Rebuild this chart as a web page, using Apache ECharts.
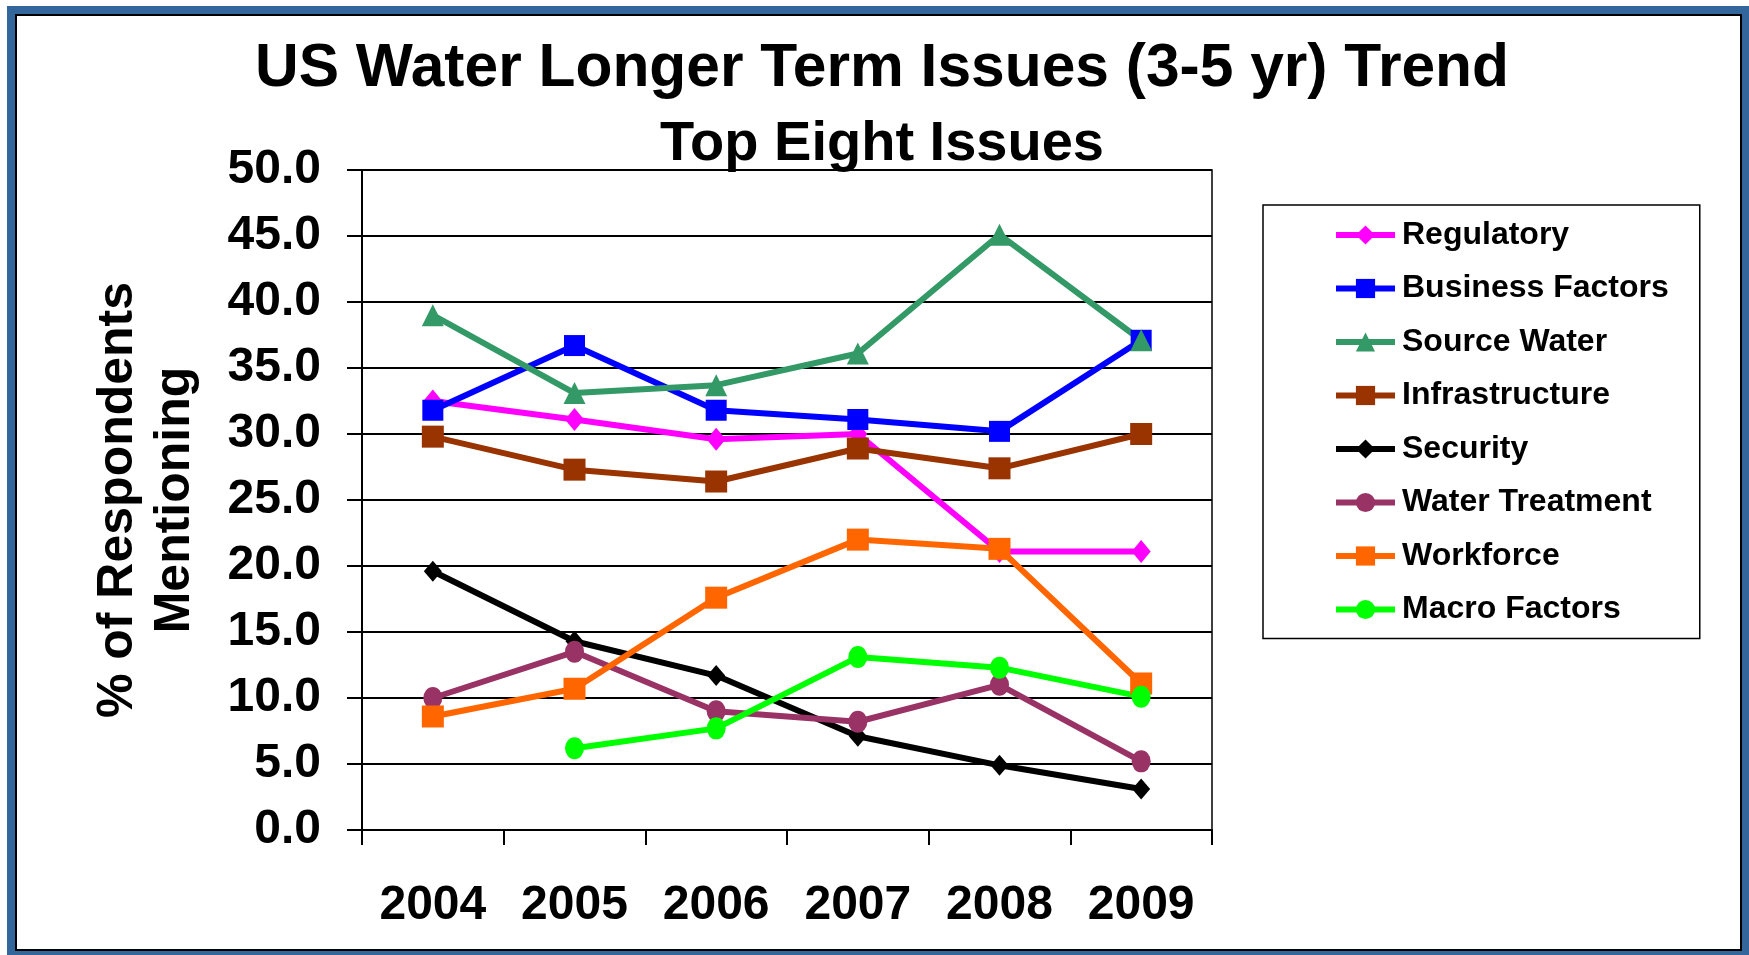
<!DOCTYPE html>
<html>
<head>
    <meta charset="utf-8">
    <title>US Water Longer Term Issues</title>
    <script src="https://cdn.jsdelivr.net/npm/echarts@6/dist/echarts.min.js"></script>
    <style>
        body { margin: 0; background: #fff; }
        #main { position: absolute; left: 0; top: 0; width: 1749px; height: 955px; }
        #frame {
            position: absolute; left: 7px; top: 6px; right: 0; bottom: 0;
            border: 8px solid #33669a; border-right-width: 7px; border-bottom-width: 4px;
            pointer-events: none;
        }
        #frame div { position: absolute; left: 0; top: 0; right: 0; bottom: 0; border: 2px solid #000; }
    </style>
</head>
<body>
    <div id="main"></div>
    <div id="frame"><div></div></div>
    <script>
    var years = ['2004', '2005', '2006', '2007', '2008', '2009'];
    var regulatory = [32.5, 31.1, 29.6, 30.0, 21.1, 21.1];
    var businessFactors = [31.8, 36.7, 31.8, 31.1, 30.2, 37.1];
    var sourceWater = [39.0, 33.1, 33.7, 36.1, 45.1, 37.1];
    var infrastructure = [29.8, 27.3, 26.4, 28.9, 27.4, 30.0];
    var security = [19.6, 14.3, 11.7, 7.1, 4.9, 3.1];
    var waterTreatment = [10.0, 13.5, 9.0, 8.2, 11.0, 5.2];
    var workforce = [8.6, 10.7, 17.6, 22.0, 21.3, 11.1];
    var macroFactors = [null, 6.2, 7.7, 13.1, 12.3, 10.1];

    var font = 'Liberation Sans, Arial, sans-serif';

    function makeSeries(name, data, color, symbol, size) {
        return {
            name: name,
            type: 'line',
            data: data,
            symbol: symbol,
            symbolSize: size,
            color: color,
            lineStyle: { width: 6, color: color },
            itemStyle: { color: color },
            connectNulls: false,
            animation: false
        };
    }

    var myChart = echarts.init(document.getElementById('main'));
    var option = {
        backgroundColor: '#fff',
        title: {
            text: '{a|US Water Longer Term Issues (3-5 yr) Trend}\n{b|Top Eight Issues}',
            left: 882,
            textAlign: 'center',
            top: 31,
            padding: 0,
            textStyle: {
                fontFamily: font,
                fontWeight: 'bold',
                color: '#000',
                rich: {
                    a: { fontFamily: font, fontWeight: 'bold', fontSize: 60.5, lineHeight: 76, color: '#000' },
                    b: { fontFamily: font, fontWeight: 'bold', fontSize: 56, lineHeight: 76, color: '#000' }
                }
            }
        },
        legend: {
            orient: 'vertical',
            left: 1263,
            top: 205,
            padding: [14, 31, 13, 70],
            itemWidth: 59,
            itemHeight: 24,
            itemGap: 21.5,
            borderColor: '#000',
            borderWidth: 1.5,
            lineStyle: { width: 6 },
            textStyle: {
                fontFamily: font,
                fontWeight: 'bold',
                fontSize: 32,
                lineHeight: 32,
                color: '#000',
                padding: [0, 0, 0, 2]
            }
        },
        grid: {
            left: 362,
            right: 537,
            top: 170,
            bottom: 125,
            show: true,
            borderColor: '#000',
            borderWidth: 1.5,
            backgroundColor: 'transparent'
        },
        xAxis: {
            type: 'category',
            data: years,
            boundaryGap: true,
            axisLine: { lineStyle: { color: '#000', width: 2 } },
            axisTick: { show: true, length: 15, interval: 0, lineStyle: { color: '#000', width: 2 } },
            axisLabel: {
                margin: 52,
                fontFamily: font,
                fontWeight: 'bold',
                fontSize: 48,
                color: '#000'
            }
        },
        yAxis: {
            type: 'value',
            min: 0,
            max: 50,
            interval: 5,
            name: '% of Respondents\nMentioning',
            nameLocation: 'middle',
            nameGap: 158,
            nameTextStyle: {
                fontFamily: font,
                fontWeight: 'bold',
                fontSize: 50,
                lineHeight: 57,
                color: '#000'
            },
            axisLine: { show: true, lineStyle: { color: '#000', width: 2 } },
            axisTick: { show: true, length: 15, lineStyle: { color: '#000', width: 2 } },
            splitLine: { lineStyle: { color: '#000', width: 2 } },
            axisLabel: {
                margin: 41,
                fontFamily: font,
                fontWeight: 'bold',
                fontSize: 48,
                color: '#000',
                formatter: function (v) { return v.toFixed(1); }
            }
        },
        series: [
            makeSeries('Regulatory', regulatory, '#ff00ff', 'diamond', [19, 23]),
            makeSeries('Business Factors', businessFactors, '#0000ff', 'rect', 21),
            makeSeries('Source Water', sourceWater, '#339966', 'triangle', 22),
            makeSeries('Infrastructure', infrastructure, '#993300', 'rect', 22),
            makeSeries('Security', security, '#000000', 'diamond', [18, 21]),
            makeSeries('Water Treatment', waterTreatment, '#993366', 'circle', [19, 22]),
            makeSeries('Workforce', workforce, '#ff6600', 'rect', 22),
            makeSeries('Macro Factors', macroFactors, '#00ff00', 'circle', [19, 22])
        ]
    };
    myChart.setOption(option);
    </script>
</body>
</html>
